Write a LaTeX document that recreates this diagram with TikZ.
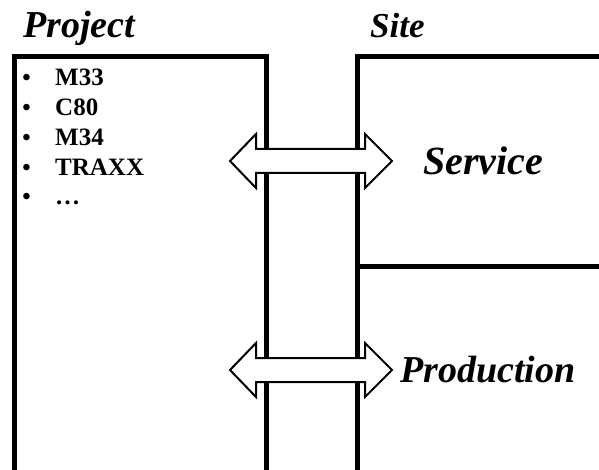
\documentclass[tikz,border=0pt]{standalone}
\usepackage{fontspec}
\setmainfont{Liberation Serif}
\begin{document}
\begin{tikzpicture}[x=1pt,y=-1pt,
  wall/.style={line width=5pt},
  arrowbox/.style={draw, line width=2pt, fill=white, line join=miter},
  heading/.style={font=\fontsize{38}{40}\selectfont\bfseries\itshape, anchor=base west, inner sep=0pt},
  area/.style={font=\fontsize{40}{44}\selectfont\bfseries\itshape, anchor=base west, inner sep=0pt},
  entry/.style={font=\fontsize{25}{28}\selectfont\bfseries, anchor=base west, inner sep=0pt},
  dot/.style={font=\fontsize{24}{26}\selectfont\bfseries, anchor=base, inner sep=0pt}]
\useasboundingbox (0,0) rectangle (599,470);

% walls of the two containers
\begin{scope}
  \clip (0,0) rectangle (599,470);
  \draw[wall] (14,480) -- (14,56.5) -- (266.5,56.5) -- (266.5,480);
  \draw[wall] (357,480) -- (357,56.5) -- (610,56.5);
  \draw[wall] (357,266) -- (610,266);
\end{scope}

% two-headed block arrows crossing the gap
\newcommand\linkarrow[1]{%
  \draw[arrowbox] (230,#1) -- (256,{#1-27}) -- (256,{#1-12}) -- (365,{#1-12})
    -- (365,{#1-27}) -- (392,#1) -- (365,{#1+27}) -- (365,{#1+12})
    -- (256,{#1+12}) -- (256,{#1+27}) -- cycle;}
\linkarrow{161}
\linkarrow{370}

% headings
\node[heading] (project) at (23,38) {Project};
\node[heading,font=\fontsize{35}{40}\selectfont\bfseries\itshape] (site) at (370,38) {Site};
\node[area] (service) at (423,175) {Service};
\node[area,font=\fontsize{38}{42}\selectfont\bfseries\itshape] (production) at (400,382) {Production};

% list of projects
\foreach \name/\txt [count=\i] in {m33/M33, c80/C80, m34/M34, traxx/TRAXX, more/\dots} {
  \node[dot] (dot\i) at (26.5,{86+29.7*(\i-1)}) {•};
  \node[entry] (\name) at (55,{86+29.7*(\i-1)}) {\txt};
}
\end{tikzpicture}
\end{document}
